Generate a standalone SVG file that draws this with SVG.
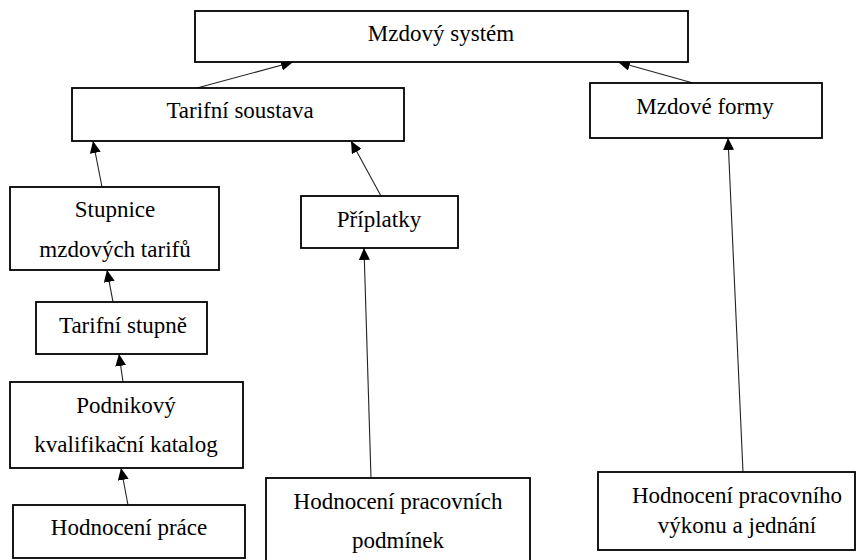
<svg xmlns="http://www.w3.org/2000/svg" width="857" height="560" viewBox="0 0 857 560">
<style>
.box{fill:#fff;stroke:#000;stroke-width:1.8}
.c{stroke:#222;stroke-width:1.1;fill:none;marker-end:url(#ah)}
</style>
<defs>
<marker id="ah" markerUnits="userSpaceOnUse" markerWidth="12" markerHeight="11" refX="12" refY="5.5" orient="auto">
<path d="M0,0 L12,5.5 L0,11 Z" fill="#000"/>
</marker>
</defs>
<rect width="857" height="560" fill="#fff"/>
<g id="connectors">
<line class="c" x1="197" y1="88" x2="293" y2="62"/>
<line class="c" x1="693" y1="83" x2="618" y2="62"/>
<line class="c" x1="102" y1="187" x2="93" y2="141"/>
<line class="c" x1="381" y1="196" x2="351" y2="141"/>
<line class="c" x1="113" y1="302" x2="107" y2="270"/>
<line class="c" x1="123" y1="382" x2="119" y2="354"/>
<line class="c" x1="128" y1="505" x2="121" y2="468"/>
<line class="c" x1="371" y1="478" x2="364" y2="248"/>
<line class="c" x1="743" y1="472" x2="728" y2="138"/>
</g>
<g id="nodes" text-anchor="middle" fill="#000" style="font-family:'Liberation Serif','Times New Roman',serif;font-size:23px">
<g id="mzdovy-system">
<rect class="box" x="195" y="11" width="493" height="51"/>
<text x="441" y="41">Mzdový systém</text>
</g>
<g id="tarifni-soustava">
<rect class="box" x="72" y="88" width="332" height="53"/>
<text x="240" y="118">Tarifní soustava</text>
</g>
<g id="mzdove-formy">
<rect class="box" x="590" y="83" width="232" height="55"/>
<text x="705" y="114">Mzdové formy</text>
</g>
<g id="stupnice">
<rect class="box" x="10" y="187" width="209" height="83"/>
<text x="115" y="217">Stupnice</text>
<text x="115" y="257">mzdových tarifů</text>
</g>
<g id="priplatky">
<rect class="box" x="301" y="196" width="157" height="52"/>
<text x="379" y="227">Příplatky</text>
</g>
<g id="tarifni-stupne">
<rect class="box" x="36" y="302" width="171" height="52"/>
<text x="123" y="333">Tarifní stupně</text>
</g>
<g id="podnikovy-katalog">
<rect class="box" x="10" y="382" width="233" height="86"/>
<text x="126" y="413">Podnikový</text>
<text x="126" y="452">kvalifikační katalog</text>
</g>
<g id="hodnoceni-prace">
<rect class="box" x="13" y="505" width="232" height="53"/>
<text x="129" y="535">Hodnocení práce</text>
</g>
<g id="hodnoceni-podminek">
<rect class="box" x="266" y="478" width="264" height="95"/>
<text x="398" y="509">Hodnocení pracovních</text>
<text x="398" y="548">podmínek</text>
</g>
<g id="hodnoceni-vykonu">
<rect class="box" x="598" y="472" width="257" height="78"/>
<text x="737" y="503">Hodnocení pracovního</text>
<text x="737" y="533">výkonu a jednání</text>
</g>
</g>
</svg>
